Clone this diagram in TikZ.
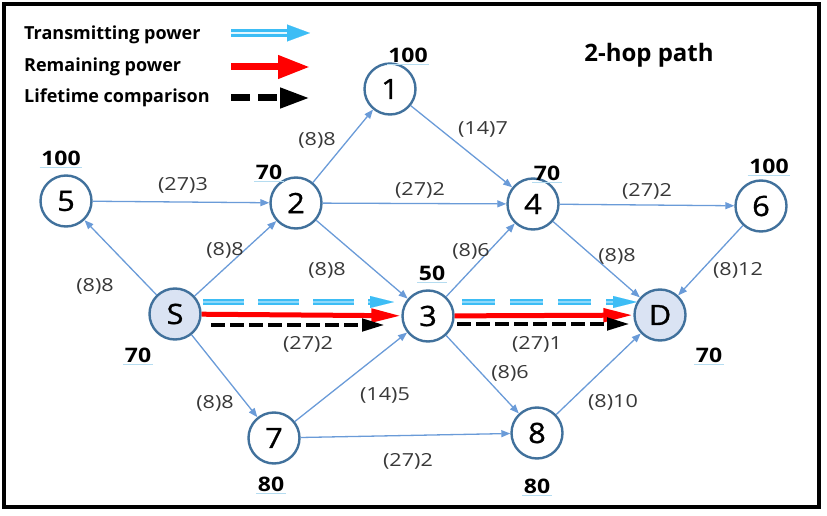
\documentclass[tikz,border=0pt]{standalone}
\usepackage{fontspec}
\setmainfont{Open Sans}
\newfontfamily\lblfont[FakeStretch=1.2]{Open Sans}
\newfontfamily\pwfont[FakeStretch=1.15]{Open Sans}
\newfontfamily\ndfont[FakeStretch=1.1,FakeBold=1]{Open Sans}
\usetikzlibrary{arrows.meta,calc}
\definecolor{edgeblue}{HTML}{6A9BD8}
\definecolor{nodeblue}{HTML}{41719C}
\definecolor{nodefill}{HTML}{DAE3F3}
\definecolor{lblgray}{HTML}{383838}
\definecolor{skyA}{HTML}{3DBDF5}
\definecolor{skyB}{HTML}{8ED8FA}
\definecolor{skyC}{HTML}{E3F6FE}
\definecolor{ulblue}{HTML}{B5DCF0}
\begin{document}
\begin{tikzpicture}[x=1pt,y=-1pt,
  nd/.style={circle, draw=nodeblue, line width=2.4pt, minimum size=51pt, inner sep=0pt,
    fill=white, text=black, font=\ndfont\fontsize{28}{28}\selectfont},
  endnd/.style={nd, fill=nodefill},
  pw/.style={font=\pwfont\bfseries\fontsize{20}{20}\selectfont, inner sep=1.5pt,
    append after command={(\tikzlastnode.south west) edge[draw=ulblue, line width=0.9pt, -] (\tikzlastnode.south east)}},
  el/.style={font=\lblfont\fontsize{18}{18}\selectfont, text=lblgray, inner sep=0pt},
  ed/.style={draw=edgeblue, line width=1.3pt, -{Triangle[length=9pt,width=7pt]}},
  legtext/.style={font=\bfseries\fontsize{18}{18}\selectfont, anchor=west, inner sep=0pt},
  cyanshaft/.style={draw=skyA, double=skyB, double distance=1.2pt, line width=2.4pt},
  cyanhead/.style={draw=skyA, fill=skyA, line width=0.1pt},
  redarr/.style={draw=red, line width=5pt, -{Triangle[length=30pt,width=13pt]}},
  blkarr/.style={draw=black, line width=4.5pt, dash pattern=on 14pt off 5pt, -{Triangle[length=23pt,width=12pt]}}
]
\useasboundingbox (0,0) rectangle (827,516);
\draw[line width=4.5pt] (4,4) rectangle (819,507);

% legend
\node[legtext] (lg1) at (24,35) {Transmitting power};
\node[legtext] (lg2) at (24,67) {Remaining power};
\node[legtext] (lg3) at (24,98) {Lifetime comparison};
\coordinate (la1s) at (231,33); \coordinate (la1m) at (287,33); \coordinate (la1e) at (310,33);
\coordinate (la2s) at (231,67); \coordinate (la2e) at (310,67);
\coordinate (la3s) at (231,98); \coordinate (la3e) at (310,98);
\draw[draw=skyA, double=skyC, double distance=2.4pt, line width=3pt] (la1s) -- (la1m);
\draw[cyanhead, -{Triangle[length=23pt,width=17pt]}] (la1m) -- (la1e);
\draw[draw=red, line width=7pt, -{Triangle[length=32pt,width=22pt]}] (la2s) -- (la2e);
\draw[draw=black, line width=7pt, dash pattern=on 19pt off 8pt, -{Triangle[length=30pt,width=19pt]}] (la3s) -- (la3e);

\node[font=\bfseries\fontsize{24}{24}\selectfont] (title) at (649,55) {2-hop path};

% nodes
\node[nd] (n1) at (390,89) {1};
\node[nd] (n2) at (296,203) {2};
\node[nd] (n4) at (533,204) {4};
\node[nd] (n5) at (66,201) {5};
\node[nd] (n6) at (761,206) {6};
\node[endnd] (S) at (175,314) {S};
\node[nd] (n3) at (428,316) {3};
\node[endnd] (D) at (660,315) {D};
\node[nd] (n7) at (274,438) {7};
\node[nd] (n8) at (537,433) {8};

% power labels
\node[pw] (p1) at (408,55) {100};
\node[pw] (p5) at (61,158) {100};
\node[pw] (p2) at (269,172) {70};
\node[pw] (p4) at (547,173) {70};
\node[pw] (p6) at (769,166) {100};
\node[pw] (pS) at (138,355) {70};
\node[pw] (p3) at (432,273) {50};
\node[pw] (pD) at (709,355) {70};
\node[pw] (p7) at (271,484) {80};
\node[pw] (p8) at (537,486) {80};

% thin edges
\draw[ed] (n2) -- (n1);
\draw[ed] (n1) -- (n4);
\draw[ed] (n5) -- (n2);
\draw[ed] (n2) -- (n4);
\draw[ed] (n4) -- (n6);
\draw[ed] (S) -- (n5);
\draw[ed] (S) -- (n2);
\draw[ed] (n2) -- (n3);
\draw[ed] (n3) -- (n4);
\draw[ed] (n4) -- (D);
\draw[ed] (n6) -- (D);
\draw[ed] (S) -- (n7);
\draw[ed] (n7) -- (n3);
\draw[ed] (n7) -- (n8);
\draw[ed] (n3) -- (n8);
\draw[ed] (n8) -- (D);

% highlighted paths
\coordinate (c1s) at (203,302); \coordinate (c1m) at (370,302); \coordinate (c1e) at (394,302);
\coordinate (c2s) at (462,302); \coordinate (c2m) at (614,302); \coordinate (c2e) at (637,302);
\draw[cyanshaft, dash pattern=on 41pt off 14pt] (c1s) -- (c1m);
\draw[cyanhead, -{Triangle[length=24pt,width=12pt]}] (c1m) -- (c1e);
\draw[cyanshaft, dash pattern=on 33pt off 15pt] (c2s) -- (c2m);
\draw[cyanhead, -{Triangle[length=24pt,width=12pt]}] (c2m) -- (c2e);

\draw[redarr] (S) -- (n3);
\draw[redarr] (n3) -- (D);

\coordinate (k1s) at (211,325); \coordinate (k1e) at (385,325);
\coordinate (k2s) at (457,324); \coordinate (k2e) at (630,324);
\draw[blkarr] (k1s) -- (k1e);
\draw[blkarr] (k2s) -- (k2e);

% edge labels
\node[el] (e21) at (317,140) {(8)8};
\node[el] (e14) at (483,129) {(14)7};
\node[el] (e52) at (183,185) {(27)3};
\node[el] (e24) at (420,190) {(27)2};
\node[el] (e46) at (647,191) {(27)2};
\node[el] (eS5) at (95,286) {(8)8};
\node[el] (eS2) at (225,250) {(8)8};
\node[el] (e23) at (327,270) {(8)8};
\node[el] (e34) at (471,251) {(8)6};
\node[el] (e4D) at (617,256) {(8)8};
\node[el] (e6D) at (738,270) {(8)12};
\node[el] (eS3) at (308,344) {(27)2};
\node[el] (e3D) at (537,344) {(27)1};
\node[el] (e38) at (510,373) {(8)6};
\node[el] (e8D) at (613,402) {(8)10};
\node[el] (eS7) at (215,403) {(8)8};
\node[el] (e73) at (385,395) {(14)5};
\node[el] (e78) at (408,461) {(27)2};
\end{tikzpicture}
\end{document}
